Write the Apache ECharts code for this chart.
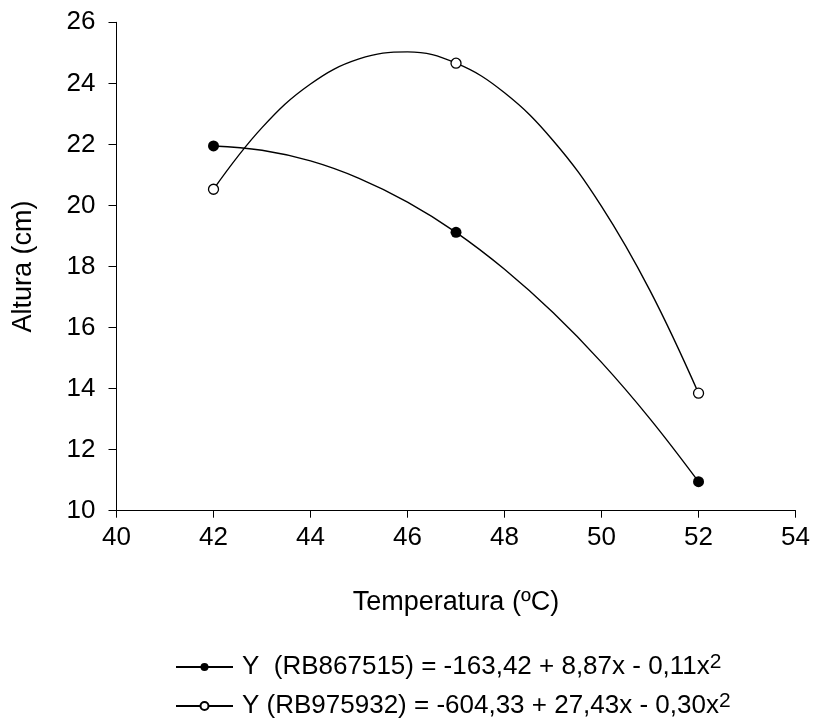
<!DOCTYPE html>
<html><head><meta charset="utf-8">
<script src="https://cdn.jsdelivr.net/npm/echarts@6/dist/echarts.min.js"></script>
<style>html,body{margin:0;padding:0;background:#fff}#c{width:813px;height:726px}</style>
</head><body><div id="c"></div>
<script>
// Observed points
const temps = [42, 47, 52];
const alturaRB867515 = [21.95, 19.12, 10.95];
const alturaRB975932 = [20.53, 24.66, 13.85];
// Fitted curves
const curveTemps = [42, 43, 44, 45, 46, 47, 48, 49, 50, 51, 52];
const curveRB867515 = [21.95, 21.81, 21.46, 20.89, 20.11, 19.12, 17.91, 16.49, 14.86, 13.01, 10.95];
const curveRB975932 = [20.53, 22.55, 23.98, 24.80, 25.03, 24.66, 23.69, 22.13, 19.97, 17.21, 13.85];
// Axis ranges
const xRange = [40, 54, 2];
const yRange = [10, 26, 2];
// Legend text
const seriesNames = ['RB867515', 'RB975932'];
const legendLabels = ['Y  (RB867515) = -163,42 + 8,87x - 0,11x', 'Y (RB975932) = -604,33 + 27,43x - 0,30x'];
const superscript = '2';

const FONT = 'Liberation Sans, Arial, sans-serif';
const pairs = (xs, ys) => xs.map((x, i) => [x, ys[i]]);

const chart = echarts.init(document.getElementById('c'), null, {renderer: 'canvas'});
chart.setOption({
  animation: false,
  backgroundColor: '#fff',
  grid: {left: 116.5, right: 16, top: 22.3, bottom: 215.3},
  xAxis: {
    type: 'value', min: xRange[0], max: xRange[1], interval: xRange[2],
    name: 'Temperatura (ºC)', nameLocation: 'middle', nameGap: 78,
    nameTextStyle: {color: '#000', fontSize: 27, fontFamily: FONT},
    axisLine: {lineStyle: {color: '#000', width: 1}},
    axisTick: {show: true, length: 7, lineStyle: {color: '#000', width: 1}},
    axisLabel: {color: '#000', fontSize: 26, fontFamily: FONT, margin: 14},
    splitLine: {show: false}
  },
  yAxis: {
    type: 'value', min: yRange[0], max: yRange[1], interval: yRange[2],
    name: 'Altura (cm)', nameLocation: 'middle', nameGap: 79, nameRotate: 90,
    nameTextStyle: {color: '#000', fontSize: 27, fontFamily: FONT},
    axisLine: {show: true, lineStyle: {color: '#000', width: 1}},
    axisTick: {show: true, length: 8, lineStyle: {color: '#000', width: 1}},
    axisLabel: {color: '#000', fontSize: 26, fontFamily: FONT, margin: 21},
    splitLine: {show: false}
  },
  legend: {
    orient: 'vertical', left: 175, top: 652, padding: 0, itemGap: 11,
    itemWidth: 57, itemHeight: 10,
    data: seriesNames,
    formatter: name => '{m|' + legendLabels[seriesNames.indexOf(name)] + '}{s|' + superscript + '}',
    textStyle: {
      color: '#000', fontFamily: FONT, fontSize: 26,
      rich: {
        m: {fontSize: 26, fontFamily: FONT, color: '#000', lineHeight: 30, padding: [0, 0, 0, 4]},
        s: {fontSize: 21, fontFamily: FONT, color: '#000', lineHeight: 20, verticalAlign: 'top'}
      }
    }
  },
  series: [
    {
      name: seriesNames[0], type: 'line', smooth: 0.4, symbol: 'circle', showSymbol: false,
      data: pairs(curveTemps, curveRB867515),
      lineStyle: {color: '#000', width: 1.4}, itemStyle: {color: '#000'}, z: 2
    },
    {
      name: seriesNames[1], type: 'line', smooth: 0.4, symbol: 'emptyCircle', showSymbol: false,
      data: pairs(curveTemps, curveRB975932),
      lineStyle: {color: '#000', width: 1.4}, itemStyle: {color: '#000', borderWidth: 1.3}, z: 2
    },
    {
      name: 'pts1', type: 'scatter', symbol: 'circle', symbolSize: 11,
      data: pairs(temps, alturaRB867515),
      itemStyle: {color: '#000', opacity: 1}, z: 3
    },
    {
      name: 'pts2', type: 'scatter', symbol: 'circle', symbolSize: 10,
      data: pairs(temps, alturaRB975932),
      itemStyle: {color: '#fff', borderColor: '#000', borderWidth: 1.3, opacity: 1}, z: 3
    }
  ]
});
</script>
</body></html>
